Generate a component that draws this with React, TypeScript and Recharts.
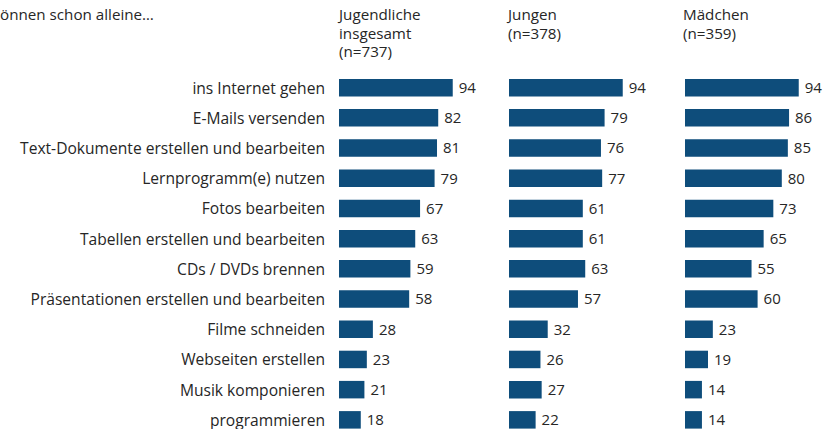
import { BarChart, Bar, XAxis, YAxis, LabelList } from 'recharts';

const CATEGORIES = [
  'ins Internet gehen',
  'E-Mails versenden',
  'Text-Dokumente erstellen und bearbeiten',
  'Lernprogramm(e) nutzen',
  'Fotos bearbeiten',
  'Tabellen erstellen und bearbeiten',
  'CDs / DVDs brennen',
  'Präsentationen erstellen und bearbeiten',
  'Filme schneiden',
  'Webseiten erstellen',
  'Musik komponieren',
  'programmieren',
];

const GESAMT = [94, 82, 81, 79, 67, 63, 59, 58, 28, 23, 21, 18];
const JUNGEN = [94, 79, 76, 77, 61, 61, 63, 57, 32, 26, 27, 22];
const MAEDCHEN = [94, 86, 85, 80, 73, 65, 55, 60, 23, 19, 14, 14];

const HEADERS = [
  { left: 339, lines: ['Jugendliche', 'insgesamt', '(n=737)'] },
  { left: 508, lines: ['Jungen', '(n=378)'] },
  { left: 683, lines: ['Mädchen', '(n=359)'] },
];

const BAR_COLOR = '#0e4d7b';
const TEXT_COLOR = '#262626';
const FONT = '"Open Sans", sans-serif';

const toRows = (values: number[]) =>
  CATEGORIES.map((category, i) => ({ category, value: values[i] }));

const CHART_HEIGHT = 440;
const MARGIN = { top: 72.9, right: 39, bottom: 4.7, left: 0 };

function Panel({
  values,
  left,
  withLabels,
}: {
  values: number[];
  left: number;
  withLabels?: boolean;
}) {
  const yWidth = withLabels ? 339 : 0;
  const width = yWidth + 121 + MARGIN.right;
  return (
    <div style={{ position: 'absolute', left: left - yWidth, top: 0 }}>
      <BarChart
        width={width}
        height={CHART_HEIGHT}
        data={toRows(values)}
        layout="vertical"
        margin={MARGIN}
      >
        <XAxis type="number" domain={[0, 100]} hide />
        <YAxis
          type="category"
          dataKey="category"
          width={yWidth}
          hide={!withLabels}
          axisLine={false}
          tickLine={false}
          tickMargin={8}
          interval={0}
          tick={{ fontSize: 15.6, fill: TEXT_COLOR, fontFamily: FONT }}
        />
        <Bar dataKey="value" fill={BAR_COLOR} barSize={17.5} isAnimationActive={false}>
          <LabelList
            dataKey="value"
            position="right"
            offset={6}
            style={{ fontSize: 15, fill: TEXT_COLOR, fontFamily: FONT }}
          />
        </Bar>
      </BarChart>
    </div>
  );
}

export default function App() {
  return (
    <div
      style={{
        position: 'absolute',
        left: 0,
        top: 0,
        width: 826,
        height: 429,
        overflow: 'hidden',
        background: '#fff',
        fontFamily: FONT,
        color: TEXT_COLOR,
      }}
    >
      <div style={{ position: 'absolute', left: 0, top: 5, fontSize: 15.2, lineHeight: '18.5px' }}>
        önnen schon alleine…
      </div>
      {HEADERS.map((h) => (
        <div
          key={h.left}
          style={{ position: 'absolute', left: h.left, top: 5, fontSize: 15.2, lineHeight: '18.5px' }}
        >
          {h.lines.map((line) => (
            <div key={line}>{line}</div>
          ))}
        </div>
      ))}
      <Panel values={GESAMT} left={339} withLabels />
      <Panel values={JUNGEN} left={509} />
      <Panel values={MAEDCHEN} left={685} />
    </div>
  );
}
